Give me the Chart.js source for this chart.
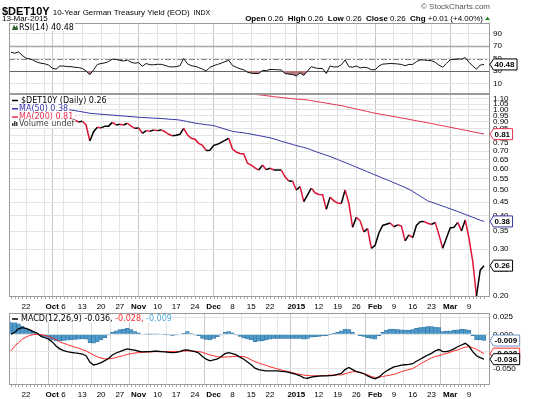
<!DOCTYPE html>
<html>
<head>
<meta charset="utf-8">
<script src="https://cdn.jsdelivr.net/npm/chart.js@4.4.1/dist/chart.umd.min.js"></script>
<style>
  body { margin: 0; background: #fff; width: 550px; height: 399px; overflow: hidden; position: relative; }
  canvas { position: absolute; left: 0; }
</style>
</head>
<body>
<canvas id="rsiChart" width="550" height="94" style="top:0"></canvas>
<canvas id="priceChart" width="550" height="219" style="top:94px"></canvas>
<canvas id="macdChart" width="550" height="86" style="top:313px"></canvas>
<script>
/* DATA: one value per trading day, 16-Sep-2014 .. 13-Mar-2015 */
const close = [
  1.05, 1.06, 1.08, 1.04, 1.01, 0.99, 0.99, 0.97, 0.97, 0.95, 0.95, 0.90, 0.92, 0.92,
  0.915, 0.915, 0.915, 0.915, 0.90, 0.905, 0.877,
  0.764, 0.827, 0.859, 0.855, 0.868, 0.868, 0.897, 0.877, 0.882, 0.877,
  0.890, 0.868, 0.852, 0.855, 0.816, 0.835, 0.830, 0.840, 0.835, 0.840,
  0.827, 0.809, 0.799, 0.803, 0.809, 0.852, 0.805, 0.782, 0.775, 0.748,
  0.735, 0.703, 0.705, 0.735, 0.742, 0.755, 0.768, 0.782, 0.712, 0.694,
  0.685, 0.682, 0.630, 0.620, 0.605, 0.594, 0.620, 0.596, 0.603, 0.594,
  0.594, 0.594, 0.560, 0.540, 0.540, 0.500, 0.515, 0.452, 0.479, 0.508,
  0.488, 0.481, 0.480, 0.423, 0.470, 0.455, 0.447, 0.445, 0.500, 0.446,
  0.362, 0.395, 0.383, 0.348, 0.358, 0.302, 0.310, 0.345, 0.368, 0.372,
  0.376, 0.364, 0.370, 0.366, 0.322, 0.339, 0.331, 0.368, 0.380, 0.381,
  0.375, 0.371, 0.378, 0.340, 0.302, 0.330, 0.360, 0.362, 0.378, 0.351,
  0.386, 0.330, 0.270, 0.200, 0.250, 0.260
];
const ma50 = [
  1.060, 1.057, 1.053, 1.049, 1.045, 1.041, 1.037, 1.033, 1.030, 1.027, 1.024, 1.021, 1.018, 1.015,
  1.010, 1.004, 0.998, 0.993, 0.987, 0.982, 0.976, 0.970,
  0.967, 0.965, 0.962, 0.960, 0.957, 0.955, 0.952, 0.950, 0.947, 0.945, 0.942, 0.940, 0.937,
  0.935, 0.934, 0.932, 0.930, 0.929, 0.927, 0.925, 0.922, 0.920, 0.918, 0.915,
  0.909, 0.903, 0.897, 0.891, 0.887, 0.883, 0.879, 0.876, 0.872,
  0.863, 0.855, 0.846, 0.838, 0.830, 0.826, 0.822, 0.819, 0.815,
  0.810, 0.805, 0.800, 0.795, 0.790, 0.785, 0.778, 0.770, 0.762,
  0.755, 0.748, 0.741, 0.734, 0.728, 0.722, 0.716, 0.707, 0.698, 0.690,
  0.683, 0.675, 0.668, 0.659, 0.651, 0.642,
  0.634, 0.626, 0.617, 0.609, 0.601, 0.593, 0.585, 0.577, 0.569,
  0.562, 0.554, 0.547, 0.540, 0.532, 0.525, 0.518, 0.511, 0.503,
  0.494, 0.484, 0.474, 0.465, 0.455,
  0.450, 0.445, 0.440, 0.435, 0.430, 0.425, 0.420, 0.415,
  0.410, 0.405, 0.400, 0.395, 0.390, 0.385, 0.381
];
const ma200 = [
  1.400, 1.396, 1.392, 1.388, 1.384, 1.380, 1.376, 1.372, 1.368, 1.364,
  1.360, 1.356, 1.352, 1.348, 1.344, 1.340, 1.336, 1.332, 1.328, 1.324,
  1.320, 1.316, 1.312, 1.308, 1.304, 1.300, 1.296, 1.292, 1.288, 1.284,
  1.280, 1.276, 1.272, 1.268, 1.264, 1.260, 1.256, 1.252, 1.248, 1.244,
  1.240, 1.236, 1.232, 1.228, 1.224, 1.220, 1.216, 1.212, 1.208, 1.204,
  1.200, 1.196, 1.192, 1.188, 1.184, 1.180, 1.176, 1.172, 1.168, 1.164,
  1.161, 1.158, 1.155, 1.152,
  1.146, 1.142, 1.138, 1.134, 1.129, 1.125, 1.120,
  1.116, 1.112, 1.108, 1.104, 1.100, 1.097, 1.094, 1.091, 1.088,
  1.082, 1.076, 1.070, 1.065, 1.059, 1.053, 1.047, 1.042, 1.036,
  1.029, 1.021, 1.014, 1.006, 0.999, 0.992, 0.985, 0.977, 0.970,
  0.965, 0.959, 0.954, 0.948, 0.943, 0.937, 0.932, 0.926, 0.921,
  0.915, 0.910, 0.904, 0.899, 0.893, 0.888, 0.882, 0.876, 0.871, 0.865,
  0.860, 0.854, 0.849, 0.843, 0.838, 0.832, 0.827, 0.821, 0.816, 0.810
];
const rsi = [
  60, 58.5, 60.5, 55, 50.5, 49.5, 47, 44, 42.5, 41.5,
  39.5, 34.5, 33, 38, 38, 37, 37, 36, 35.5, 34,
  30, 24, 32, 40.5, 42, 43, 45, 49, 48.5, 47,
  46, 47.5, 44, 42.5, 43.5, 37.5, 42, 40, 40, 40.7,
  40.7, 39, 37, 36.5, 37, 38.5, 50, 41.5, 38.5, 37.5,
  35.5, 33, 30, 36, 38.5, 40.5, 42.5, 45, 47, 39,
  36, 33.5, 32, 28, 26.5, 26, 26, 31, 30.5, 32.5,
  32.3, 32, 31.6, 26, 25, 24.5, 22, 27, 23, 30,
  37, 35, 34, 34, 26, 38, 36.5, 36.5, 40, 47.6,
  37, 36, 38, 35, 36, 35, 32, 32, 38, 41,
  41.5, 42, 41.8, 41.3, 40.5, 38.5, 40.5, 40.5, 45, 47.6,
  47.6, 47, 46.5, 44, 39.5, 36, 42, 48, 48.7, 49.5,
  49, 51.5, 44, 38, 33, 39.5, 40.48
];
const macd = [
  0.000, 0.003, 0.008, 0.0095, 0.0085, 0.0065, 0.004, 0.0015, -0.003, -0.005,
  -0.007, -0.011, -0.017, -0.021, -0.0236, -0.025, -0.026, -0.027, -0.0275, -0.0285,
  -0.031, -0.040, -0.0443, -0.043, -0.041, -0.038, -0.035, -0.030, -0.027, -0.025,
  -0.023, -0.0212, -0.022, -0.023, -0.0245, -0.0255, -0.025, -0.025, -0.0245, -0.0245,
  -0.025, -0.0255, -0.026, -0.0265, -0.026, -0.025, -0.0228, -0.0226, -0.024, -0.025,
  -0.027, -0.032, -0.036, -0.0385, -0.037, -0.0356, -0.032, -0.028, -0.0265, -0.028,
  -0.0298, -0.033, -0.036, -0.040, -0.044, -0.049, -0.051, -0.052, -0.053, -0.053,
  -0.053, -0.053, -0.0535, -0.054, -0.055, -0.0565, -0.058, -0.060, -0.063, -0.0635,
  -0.062, -0.061, -0.0605, -0.060, -0.060, -0.0598, -0.0595, -0.058, -0.0565, -0.051,
  -0.048, -0.051, -0.054, -0.055, -0.057, -0.060, -0.0625, -0.0645, -0.062, -0.057,
  -0.053, -0.050, -0.047, -0.046, -0.0445, -0.044, -0.0435, -0.0425, -0.039, -0.036,
  -0.033, -0.030, -0.0275, -0.024, -0.022, -0.025, -0.025, -0.0235, -0.021, -0.018,
  -0.0155, -0.013, -0.017, -0.025, -0.031, -0.0337, -0.036
];
const signal = [
  -0.024, -0.017, -0.012, -0.007, -0.004, -0.0015, -0.0005, 0.000, -0.0005, -0.0015,
  -0.003, -0.0055, -0.0075, -0.011, -0.013, -0.0148, -0.0168, -0.0185, -0.020, -0.0222,
  -0.024, -0.027, -0.030, -0.0325, -0.0345, -0.0356, -0.0355, -0.0348, -0.0335, -0.032,
  -0.0306, -0.029, -0.028, -0.027, -0.0265, -0.026, -0.0258, -0.0255, -0.0252, -0.025,
  -0.025, -0.025, -0.025, -0.025, -0.025, -0.0248, -0.0243, -0.024, -0.0242, -0.0245,
  -0.025, -0.026, -0.028, -0.0298, -0.031, -0.0325, -0.0332, -0.033, -0.0325, -0.0322,
  -0.0322, -0.0322, -0.0322, -0.034, -0.037, -0.0395, -0.0415, -0.0435, -0.045, -0.047,
  -0.0485, -0.050, -0.0515, -0.053, -0.054, -0.0555, -0.057, -0.058, -0.059, -0.0595,
  -0.060, -0.060, -0.060, -0.0598, -0.0595, -0.059, -0.0587, -0.0587, -0.0587, -0.057,
  -0.0555, -0.054, -0.054, -0.0555, -0.057, -0.0587, -0.061, -0.0625, -0.062, -0.061,
  -0.060, -0.059, -0.058, -0.056, -0.054, -0.0525, -0.051, -0.0495, -0.0465, -0.043,
  -0.040, -0.037, -0.034, -0.032, -0.031, -0.029, -0.0278, -0.026, -0.024, -0.0226,
  -0.0205, -0.0185, -0.0178, -0.0195, -0.0215, -0.025, -0.028
];
const hist = [
  0.018, 0.018, 0.015, 0.012, 0.009, 0.006, 0.003, 0.001, -0.002, -0.004,
  -0.006, -0.008, -0.0095, -0.0096, -0.009, -0.0085, -0.008, -0.0075, -0.007, -0.0065,
  -0.007, -0.012, -0.013, -0.011, -0.008, -0.005, -0.001, 0.003, 0.005, 0.007,
  0.0075, 0.0085, 0.007, 0.004, 0.002, 0.000, 0.0005, 0.0003, 0.0005, 0.0005,
  0.000, -0.0005, -0.001, -0.0015, -0.001, 0.000, 0.0015, 0.0038, 0.001, -0.001,
  -0.002, -0.0058, -0.0075, -0.008, -0.006, -0.0034, -0.001, 0.003, 0.0038, 0.002,
  -0.001, -0.003, -0.0055, -0.0065, -0.008, -0.0106, -0.010, -0.0096, -0.008, -0.007,
  -0.006, -0.0058, -0.0058, -0.0058, -0.0058, -0.0058, -0.0058, -0.006, -0.0072, -0.006,
  -0.004, -0.0034, -0.003, -0.0025, -0.002, -0.0005, 0.0014, 0.003, 0.005, 0.0077,
  0.007, 0.003, 0.000, -0.002, -0.003, -0.005, -0.006, -0.0072, -0.002, 0.003,
  0.006, 0.0077, 0.0077, 0.007, 0.0065, 0.006, 0.006, 0.007, 0.0085, 0.0096,
  0.0105, 0.011, 0.011, 0.0105, 0.0096, 0.0038, 0.0045, 0.005, 0.006, 0.0065,
  0.0072, 0.007, 0.006, -0.002, -0.008, -0.008, -0.009
];

/* date axis: index of trading day, label text ('' = grid line only) */
const tickIdx  = [4, 9, 11, 14, 19, 24, 29, 34, 39, 44, 49, 54, 59, 64, 69, 73, 76, 82, 87, 92, 97, 102, 107, 112, 117, 122];
const tickText = ['22', '', 'Oct', '6', '13', '20', '27', 'Nov', '10', '17', '24', 'Dec', '8', '15', '22', '', '2015', '12', '19', '26', 'Feb', '9', '16', '23', 'Mar', '9'];
const monthIdx = [11, 34, 54, 76, 97, 117];

const priceTicks = [0.20, 0.25, 0.30, 0.35, 0.40, 0.45, 0.50, 0.55, 0.60, 0.65, 0.70, 0.75, 0.80, 0.85, 0.90, 0.95, 1.00, 1.05, 1.10];
const rsiTicks = [10, 30, 50, 70, 90];
const rsiLevels = [70, 50, 30];
const macdTicks = [0.025, 0, -0.025, -0.05];

/* HELPERS */
const AX = '"Liberation Sans", Arial, sans-serif';
const LG = '"DejaVu Sans", Verdana, sans-serif';
const last = a => a[a.length - 1];
const xy = a => a.map((v, i) => ({ x: i, y: v }));

// stop chart.js from reserving extra room for overhanging tick labels
function noPad(s) { s.paddingLeft = 0; s.paddingRight = 0; s.paddingTop = 0; s.paddingBottom = 0; }

function xScale(labels, h) {
  return {
    type: 'linear', min: -0.53, max: 127.6, offset: false,
    afterBuildTicks: s => { s.ticks = tickIdx.map(v => ({ value: v })); },
    afterFit: s => { s.height = h; noPad(s); },
    grid: { drawTicks: false, color: c => monthIdx.includes(c.tick && c.tick.value) ? '#c6c6c6' : '#e4e4e4' },
    border: { display: false },
    ticks: {
      display: labels, autoSkip: false, maxRotation: 0, padding: 5, color: '#000',
      font: c => ({ family: AX, size: 8, weight: monthIdx.includes(c.tick && c.tick.value) ? 'bold' : 'normal' }),
      callback: (v, i) => tickText[i]
    }
  };
}

function yScale(type, min, max, vals, fmt) {
  return {
    type, position: 'right', min, max,
    afterBuildTicks: s => { s.ticks = vals.map(v => ({ value: v })); },
    afterFit: s => { s.width = 60; noPad(s); },
    grid: { drawTicks: false, color: '#e4e4e4' },
    border: { display: false },
    ticks: { autoSkip: false, padding: 3, color: '#000', font: { family: AX, size: 8 }, callback: fmt }
  };
}

// panel border plus small day marks under the bottom edge
function frame(chart, dayMarks) {
  const { ctx, chartArea: a, scales: { x } } = chart;
  ctx.save();
  ctx.strokeStyle = '#9a9a9a';
  ctx.lineWidth = 1;
  ctx.strokeRect(a.left + 0.5, a.top + 0.5, a.right - a.left - 1, a.bottom - a.top - 1);
  if (dayMarks) {
    ctx.strokeStyle = '#aaa';
    ctx.beginPath();
    close.forEach((v, i) => {
      const px = Math.round(x.getPixelForValue(i)) + 0.5;
      ctx.moveTo(px, a.bottom); ctx.lineTo(px, a.bottom + 2);
    });
    ctx.stroke();
  }
  ctx.restore();
}

function runs(ctx, x, y, parts, right) {
  let w = 0;
  parts.forEach(p => { ctx.font = p[1]; w += ctx.measureText(p[0]).width; });
  if (right) x -= w;
  parts.forEach(p => {
    ctx.font = p[1]; ctx.fillStyle = p[2];
    ctx.fillText(p[0], x, y);
    x += ctx.measureText(p[0]).width;
  });
  return w;
}

// legend row: white backing, short line swatch, text runs
function legendRow(ctx, x, y, color, parts, gap) {
  ctx.save();
  ctx.textBaseline = 'middle';
  let w = 0;
  parts.forEach(p => { ctx.font = '8px ' + LG; w += ctx.measureText(p[0]).width; });
  ctx.fillStyle = '#fff';
  ctx.fillRect(x - 1, y - 4, w + gap + 2, 8);
  if (color) {
    ctx.strokeStyle = color; ctx.lineWidth = 1.5;
    ctx.beginPath(); ctx.moveTo(x, y + 0.5); ctx.lineTo(x + 6, y + 0.5); ctx.stroke();
  }
  runs(ctx, x + gap, y + 0.5, parts.map(p => [p[0], '8px ' + LG, p[1]]));
  ctx.restore();
}

function tag(ctx, x, y, text, color) {
  ctx.save();
  ctx.font = 'bold 8px ' + AX;
  const w = ctx.measureText(text).width + 7;
  ctx.beginPath();
  ctx.moveTo(x, y);
  ctx.lineTo(x + 3.5, y - 5.5);
  ctx.lineTo(x + w, y - 5.5);
  ctx.lineTo(x + w, y + 5.5);
  ctx.lineTo(x + 3.5, y + 5.5);
  ctx.closePath();
  ctx.fillStyle = '#fff'; ctx.fill();
  ctx.strokeStyle = color; ctx.lineWidth = 1; ctx.stroke();
  ctx.fillStyle = '#000'; ctx.textBaseline = 'middle';
  ctx.fillText(text, x + 4.5, y + 0.5);
  ctx.restore();
}

const base = {
  responsive: false, animation: false, devicePixelRatio: 1, events: [],
  plugins: { legend: { display: false }, tooltip: { enabled: false } },
  elements: { point: { radius: 0 } }
};

/* RSI PANEL (with page header) */
new Chart(rsiChart, {
  type: 'line',
  data: { datasets: [{
    data: xy(rsi), borderColor: '#111', borderWidth: 1, tension: 0,
    fill: { target: { value: 30 }, above: 'rgba(0,0,0,0)', below: '#b27a78' }
  }] },
  options: { ...base,
    layout: { padding: { left: 9, top: 23, right: 0, bottom: 0 } },
    scales: { x: xScale(false, 0), y: yScale('linear', -6.8, 106.8, rsiTicks, v => String(v)) }
  },
  plugins: [{
    id: 'rsiPanel',
    beforeDatasetsDraw(chart) {
      const { ctx, chartArea: a, scales: { y } } = chart;
      ctx.save();
      rsiLevels.forEach(l => {
        const py = Math.round(y.getPixelForValue(l)) + 0.5;
        ctx.setLineDash(l === 50 ? [6, 2, 2, 2] : []);
        ctx.strokeStyle = l === 50 ? '#8a8a8a' : (l === 70 ? '#a8a8a8' : '#666');
        ctx.lineWidth = l === 70 ? 1.6 : 1;
        ctx.beginPath(); ctx.moveTo(a.left, py); ctx.lineTo(a.right, py); ctx.stroke();
      });
      ctx.restore();
    },
    afterDatasetsDraw(chart) {
      const { ctx, chartArea: a, scales: { y } } = chart;
      frame(chart, false);
      // header
      ctx.save();
      ctx.textBaseline = 'alphabetic';
      const tw = runs(ctx, 2, 14.5, [['$DET10Y', 'bold 11px ' + AX, '#000']]);
      runs(ctx, tw + 5, 14.5, [['10-Year German Treasury Yield (EOD)', '8px ' + AX, '#000'], ['  INDX', '7px ' + AX, '#000']]);
      runs(ctx, 490, 9, [['\u00a9 StockCharts.com', '8px ' + AX, '#555']], true);
      runs(ctx, 2, 21, [['13-Mar-2015', '8px ' + AX, '#000']]);
      const n = '8px ' + AX, b = 'bold 8px ' + AX, c = last(close).toFixed(2);
      runs(ctx, 483, 21, [
        ['Open', b, '#000'], [' ' + c + '  ', n, '#000'],
        ['High', b, '#000'], [' ' + c + '  ', n, '#000'],
        ['Low', b, '#000'], [' ' + c + '  ', n, '#000'],
        ['Close', b, '#000'], [' ' + c + '  ', n, '#000'],
        ['Chg', b, '#000'], [' +0.01 (+4.00%)', n, '#000']
      ], true);
      ctx.fillStyle = '#2a8a2a';
      ctx.beginPath(); ctx.moveTo(485, 20); ctx.lineTo(490, 20); ctx.lineTo(487.5, 16.5); ctx.closePath(); ctx.fill();
      ctx.restore();
      // legend
      ctx.save();
      ctx.fillStyle = '#2f5f2f';
      ctx.beginPath(); ctx.moveTo(12, 30); ctx.lineTo(14, 24.5); ctx.lineTo(15.5, 27.5); ctx.lineTo(17, 25); ctx.lineTo(18, 30); ctx.closePath(); ctx.fill();
      ctx.restore();
      legendRow(ctx, 19, 27, null, [['RSI(14) ' + last(rsi).toFixed(2), '#000']], 0);
      tag(ctx, a.right, y.getPixelForValue(last(rsi)), last(rsi).toFixed(2), '#000');
    }
  }]
});

/* PRICE PANEL */
new Chart(priceChart, {
  type: 'line',
  data: { datasets: [
    { data: xy(ma200), borderColor: '#e5304e', borderWidth: 1, tension: 0 },
    { data: xy(ma50), borderColor: '#3434a6', borderWidth: 1, tension: 0 },
    { data: xy(close), borderWidth: 1.5, tension: 0, borderColor: '#000',
      segment: { borderColor: c => c.p1.parsed.y < c.p0.parsed.y ? '#dc1436' : '#000' } }
  ] },
  options: { ...base,
    layout: { padding: { left: 9, top: 0, right: 0, bottom: 0 } },
    scales: { x: xScale(true, 16), y: yScale('logarithmic', 0.1983, 1.146, priceTicks, v => v.toFixed(2)) }
  },
  plugins: [{
    id: 'pricePanel',
    afterDatasetsDraw(chart) {
      const { ctx, chartArea: a, scales: { y } } = chart;
      frame(chart, true);
      legendRow(ctx, 12, a.top + 6, '#000', [['$DET10Y (Daily) ' + last(close).toFixed(2), '#000']], 9);
      legendRow(ctx, 12, a.top + 14.3, '#3434a6', [['MA(50) ' + last(ma50).toFixed(2), '#3434a6']], 7);
      legendRow(ctx, 12, a.top + 22.5, '#e5304e', [['MA(200) ' + last(ma200).toFixed(2), '#e5304e']], 7);
      legendRow(ctx, 12, a.top + 29.8, null, [['Volume undef', '#444']], 7);
      ctx.save();
      ctx.fillStyle = '#444';
      [[12, 3], [14, 5], [16, 4]].forEach(([bx, bh]) => ctx.fillRect(bx, a.top + 32 - bh, 1.5, bh));
      ctx.restore();
      tag(ctx, a.right, y.getPixelForValue(last(ma200)), last(ma200).toFixed(2), '#e5304e');
      tag(ctx, a.right, y.getPixelForValue(last(ma50)), last(ma50).toFixed(2), '#3434a6');
      tag(ctx, a.right, y.getPixelForValue(last(close)), last(close).toFixed(2), '#000');
    }
  }]
});

/* MACD PANEL */
new Chart(macdChart, {
  type: 'line',
  data: { datasets: [
    { type: 'bar', data: xy(hist), backgroundColor: '#4c99ca', borderColor: '#2a6896', borderWidth: 0.5,
      barPercentage: 1, categoryPercentage: 1, order: 3 },
    { data: xy(signal), borderColor: '#ff2b2b', borderWidth: 1, tension: 0, order: 2 },
    { data: xy(macd), borderColor: '#000', borderWidth: 1.3, tension: 0, order: 1 }
  ] },
  options: { ...base,
    layout: { padding: { left: 9, top: 0, right: 0, bottom: 0 } },
    scales: { x: xScale(true, 14), y: yScale('linear', -0.0733, 0.0308, macdTicks, v => v.toFixed(3)) }
  },
  plugins: [{
    id: 'macdPanel',
    afterDatasetsDraw(chart) {
      const { ctx, chartArea: a, scales: { y } } = chart;
      frame(chart, true);
      legendRow(ctx, 12, a.top + 5.5, '#000', [
        ['MACD(12,26,9) ' + last(macd).toFixed(3) + ', ', '#000'],
        [last(signal).toFixed(3) + ', ', '#ff2b2b'],
        [last(hist).toFixed(3), '#4ea6dc']
      ], 9);
      tag(ctx, a.right, y.getPixelForValue(last(hist)), last(hist).toFixed(3), '#6d93c4');
      tag(ctx, a.right, y.getPixelForValue(last(signal)), last(signal).toFixed(3), '#ff2b2b');
      tag(ctx, a.right, y.getPixelForValue(last(macd)), last(macd).toFixed(3), '#000');
    }
  }]
});
</script>
</body>
</html>
